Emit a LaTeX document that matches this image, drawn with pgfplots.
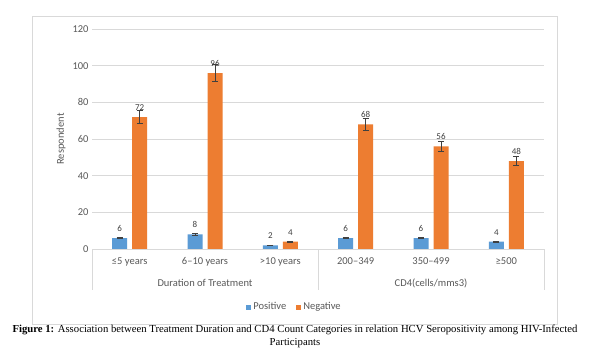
\documentclass[border=0pt]{standalone}
\usepackage{pgfplots}
\pgfplotsset{compat=1.18}
\usepackage{fontspec}
\setmainfont{Carlito}
\newfontfamily\capfont{Liberation Serif}
\definecolor{cblue}{HTML}{5B9BD5}
\definecolor{corange}{HTML}{ED7D31}
\definecolor{txt}{HTML}{595959}
\definecolor{gridc}{HTML}{D9D9D9}
\definecolor{errc}{HTML}{404040}
\begin{document}
\begin{tikzpicture}[x=1bp,y=1bp]
\useasboundingbox (0,0) rectangle (590,355);
\fill[white] (0,0) rectangle (590,355);
\draw[gridc,line width=0.8bp] (32,31) rectangle (557,339);
\begin{axis}[
  at={(92bp,106bp)}, anchor=south west,
  scale only axis, width=452bp, height=220bp,
  ymin=0, ymax=120, ytick={0,20,...,120},
  xmin=-0.5, xmax=5.5,
  xtick={0,...,5},
  xticklabels={≤5 years, 6–10 years, >10 years, 200–349, 350–499, ≥500},
  x tick label style={yshift=-5bp},
  ymajorgrids, grid style={gridc, line width=0.8bp},
  major tick length=0pt,
  axis line style={draw=none},
  tick label style={font=\fontsize{10.5bp}{12bp}\selectfont, text=txt},
  /pgf/number format/assume math mode=true,
  ylabel={Respondent},
  ylabel style={font=\fontsize{10.5bp}{12bp}\selectfont, text=txt},
  ybar=5bp, bar width=15bp,
  clip=false,
  nodes near coords,
  nodes near coords style={font=\fontsize{9bp}{10bp}\selectfont, text=errc, yshift=3bp},
  error bars/y dir=both, error bars/y explicit,
  error bars/error bar style={errc, line width=0.6bp},
  error bars/error mark options={errc, rotate=90, mark size=3bp, line width=0.6bp},
  legend columns=2,
  legend style={at={(axis description cs:0.448,-0.264)}, anchor=center, draw=none,
    font=\fontsize{10.5bp}{12bp}\selectfont, text=txt,
    /tikz/every even column/.append style={column sep=8bp}},
  legend image code/.code={\fill[#1] (0bp,-2.5bp) rectangle (5bp,2.5bp);},
]
\addplot[fill=cblue, draw=none] coordinates {(0,6) +- (0,0.3) (1,8) +- (0,0.4) (2,2) +- (0,0.1) (3,6) +- (0,0.3) (4,6) +- (0,0.3) (5,4) +- (0,0.2)};
\addplot[fill=corange, draw=none] coordinates {(0,72) +- (0,3.6) (1,96) +- (0,4.8) (2,4) +- (0,0.2) (3,68) +- (0,3.4) (4,56) +- (0,2.8) (5,48) +- (0,2.4)};
\legend{Positive, Negative}
\draw[gridc, line width=0.8bp] (axis cs:-0.5,0) -- (axis cs:5.5,0);
\draw[gridc, line width=0.8bp] (axis cs:-0.5,0) -- ([yshift=-41bp]axis cs:-0.5,0);
\draw[gridc, line width=0.8bp] (axis cs:2.5,0) -- ([yshift=-41bp]axis cs:2.5,0);
\draw[gridc, line width=0.8bp] (axis cs:5.5,0) -- ([yshift=-41bp]axis cs:5.5,0);
\node[text=txt, font=\fontsize{10.5bp}{12bp}\selectfont] at ([yshift=-34bp]axis cs:1,0) {Duration of Treatment};
\node[text=txt, font=\fontsize{10.5bp}{12bp}\selectfont] at ([yshift=-34bp]axis cs:4,0) {CD4(cells/mms3)};
\end{axis}
\node[align=center, font=\capfont\fontsize{10.7bp}{13bp}\selectfont, inner sep=0pt] at (295,18.5) {\textbf{Figure 1:} Association between Treatment Duration and CD4 Count Categories in relation HCV Seropositivity among HIV-Infected\\ Participants};
\end{tikzpicture}
\end{document}
